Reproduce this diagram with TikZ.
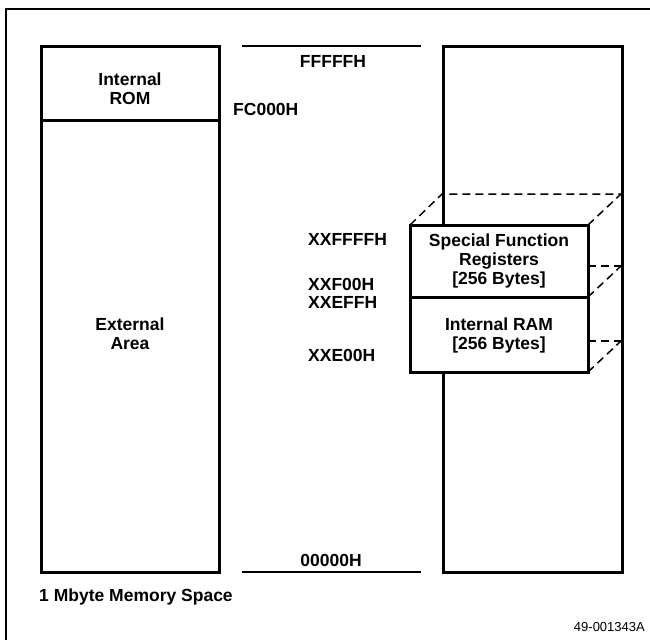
\documentclass[tikz,border=0pt]{standalone}
\usepackage{fontspec}
\setmainfont{Liberation Sans}
\begin{document}
\begin{tikzpicture}[x=1pt,y=-1pt,
  box/.style={draw,line width=3pt},
  rule/.style={line width=1.5pt},
  hid/.style={dash pattern=on 8pt off 5pt,line width=1.5pt},
  lbl/.style={font=\fontsize{17.5}{19}\selectfont\bfseries,inner sep=0pt,align=center},
  adr/.style={lbl,anchor=west}]
  \useasboundingbox (0,0) rectangle (650,640);
  % frame
  \draw[rule] (650,9) -- (6,9) -- (6,640);
  % left map
  \draw[box] (41,46) rectangle (219,572);
  \draw[box] (41,120) -- (219,120);
  \node[lbl] (rom) at (130,89) {Internal\\ROM};
  \node[lbl] (ext) at (130,334) {External\\Area};
  % address column
  \draw[rule] (242,46) -- (421,46);
  \draw[rule] (242,572) -- (421,572);
  \node[lbl] (top) at (333,61) {FFFFFH};
  \node[adr] (fc) at (233,109) {FC000H};
  \node[adr] (sfrhi) at (308,239) {XXFFFFH};
  \node[adr] (sfrlo) at (308,284) {XXF00H};
  \node[adr] (ramhi) at (308,302) {XXEFFH};
  \node[adr] (ramlo) at (308,355) {XXE00H};
  \node[lbl] (bot) at (331,560) {00000H};
  % right map with on-chip block
  \draw[box] (443,46) rectangle (622,572);
  \coordinate (fa) at (410,225);
  \coordinate (fb) at (588,225);
  \coordinate (fc2) at (588,297);
  \coordinate (fd) at (588,372);
  \coordinate (ba) at (442,194);
  \coordinate (bb) at (621,194);
  \coordinate (bc) at (621,266);
  \coordinate (bd) at (621,341);
  \draw[hid] (fa) -- (ba) -- (bb);
  \draw[hid] (fb) -- (bb);
  \draw[hid] (fc2) -- (bc);
  \draw[hid] (588,266) -- (bc);
  \draw[hid] (fd) -- (bd);
  \draw[hid] (588,341) -- (bd);
  \filldraw[box,fill=white] (fa) rectangle (fd);
  \draw[box] (410,297) -- (fc2);
  \node[lbl] (sfr) at (499,261) {Special Function\\Registers\\{[}256 Bytes{]}};
  \node[lbl] (ram) at (499,335) {Internal RAM\\{[}256 Bytes{]}};
  % captions
  \node[lbl,anchor=west] (cap) at (39,597) {1 Mbyte Memory Space};
  \node[font=\fontsize{13}{15}\selectfont,inner sep=0pt,anchor=east] (fig) at (645,627) {49-001343A};
\end{tikzpicture}
\end{document}
